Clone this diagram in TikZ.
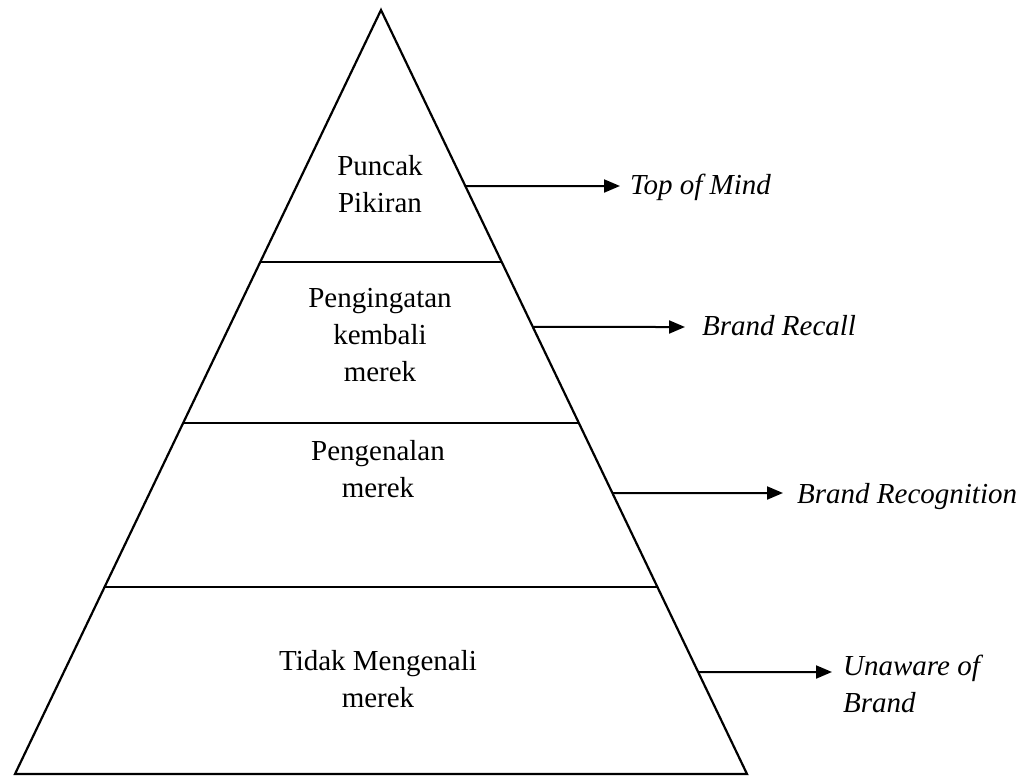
\documentclass[tikz,border=0pt]{standalone}
\usepackage{fontspec}
\setmainfont{Liberation Serif}
\usetikzlibrary{arrows.meta,calc}
\begin{document}
\begin{tikzpicture}[x=1bp,y=-1bp,
  edge/.style={line width=2.2bp, line join=miter},
  lvl/.style={line width=2.6bp},
  lab/.style={font=\fontsize{29bp}{37bp}\selectfont, align=center, anchor=base, inner sep=0},
  outlab/.style={font=\fontsize{29bp}{37bp}\selectfont\itshape, align=left, anchor=base west, inner sep=0},
  arr/.style={line width=2bp, -{Triangle[length=16bp,width=13bp]}}]
\useasboundingbox (0,0) rectangle (1035,776);
\coordinate (A) at (381,10);
\coordinate (L) at (15,774);
\coordinate (R) at (747,774);
\draw[edge] (A) -- (L) -- (R) -- cycle;
% level lines
\coordinate (l1) at ($(A)!0.3298!(L)$);
\coordinate (r1) at ($(A)!0.3298!(R)$);
\coordinate (l2) at ($(A)!0.5406!(L)$);
\coordinate (r2) at ($(A)!0.5406!(R)$);
\coordinate (l3) at ($(A)!0.7552!(L)$);
\coordinate (r3) at ($(A)!0.7552!(R)$);
\draw[lvl] (l1) -- (r1);
\draw[lvl] (l2) -- (r2);
\draw[lvl] (l3) -- (r3);
% inner labels (anchor = baseline of last line)
\node[lab] (p1) at (380,212) {Puncak\\Pikiran};
\node[lab] (p2) at (380,381) {Pengingatan\\kembali\\merek};
\node[lab] (p3) at (378,497) {Pengenalan\\merek};
\node[lab] (p4) at (378,707) {Tidak Mengenali\\merek};
% outer labels
\node[outlab] (o1) at (630,194) {Top of Mind};
\node[outlab] (o2) at (702,335) {Brand Recall};
\node[outlab] (o3) at (797,503) {Brand Recognition};
\node[outlab] (o4) at (843,712) {Unaware of\\Brand};
% arrows
\coordinate (s1) at ($(A)!0.2304!(R)$);
\coordinate (s2) at ($(A)!0.4149!(R)$);
\coordinate (s3) at ($(A)!0.6322!(R)$);
\coordinate (s4) at ($(A)!0.8665!(R)$);
\coordinate (t1) at (620,186);
\coordinate (t2) at (685,327);
\coordinate (t3) at (783,493);
\coordinate (t4) at (832,672);
\draw[arr] (s1) -- (t1);
\draw[arr] (s2) -- (t2);
\draw[arr] (s3) -- (t3);
\draw[arr] (s4) -- (t4);
\end{tikzpicture}
\end{document}
